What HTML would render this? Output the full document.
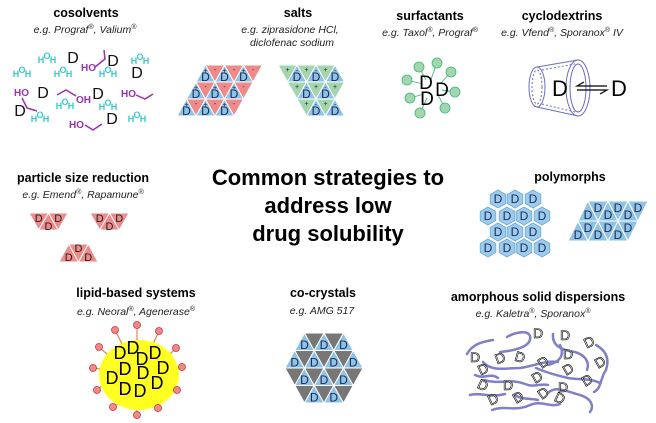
<!DOCTYPE html>
<html><head><meta charset="utf-8"><style>
html,body{margin:0;padding:0;background:#fff;}
svg{display:block;font-family:"Liberation Sans",Arial,sans-serif;}
.t{font-weight:bold;font-size:12.5px;text-anchor:middle;fill:#000}
.s{font-style:italic;font-size:10.5px;text-anchor:middle;fill:#222}
.b{fill:#8fc3e6;stroke:#fff;stroke-width:1}
.r{fill:#ef8a8a;stroke:#fff;stroke-width:1}
.g{fill:#a3d6ae;stroke:#fff;stroke-width:1}
.k{fill:#777;stroke:#fff;stroke-width:1}
.d{font-size:12px;text-anchor:middle;fill:#1a2a5a}
.w{fill:#3cc8c8;font-size:9px;font-weight:bold}
.p{fill:#9b30b0;font-size:10px;font-weight:bold}
.pl{stroke:#9b30b0;stroke-width:1.5;fill:none}
.am{stroke:#8080c8;stroke-width:2.5;fill:none;stroke-linecap:round}
</style></head><body>
<svg width="656" height="423" viewBox="0 0 656 423" xmlns="http://www.w3.org/2000/svg">
<defs>
<path id="hx" d="M0,-9 L7.8,-4.5 L7.8,4.5 L0,9 L-7.8,4.5 L-7.8,-4.5Z" fill="#9ccbec" stroke="#6aa8d8" stroke-width="0.8"/>
</defs>

<!-- titles -->
<text class="t" x="86" y="17">cosolvents</text>
<text class="s" x="85" y="33">e.g. Prograf<tspan font-size="7" dy="-4">®</tspan><tspan dy="4">, Valium</tspan><tspan font-size="7" dy="-4">®</tspan></text>
<text class="t" x="298" y="17">salts</text>
<text class="s" x="290" y="33">e.g. ziprasidone HCl,</text>
<text class="s" x="292" y="46">diclofenac sodium</text>
<text class="t" x="430" y="20">surfactants</text>
<text class="s" x="430" y="36">e.g. Taxol<tspan font-size="7" dy="-4">®</tspan><tspan dy="4">, Prograf</tspan><tspan font-size="7" dy="-4">®</tspan></text>
<text class="t" x="562" y="20">cyclodextrins</text>
<text class="s" x="562" y="36">e.g. Vfend<tspan font-size="7" dy="-4">®</tspan><tspan dy="4">, Sporanox</tspan><tspan font-size="7" dy="-4">®</tspan><tspan dy="4"> IV</tspan></text>
<text class="t" x="83" y="182">particle size reduction</text>
<text class="s" x="83" y="198">e.g. Emend<tspan font-size="7" dy="-4">®</tspan><tspan dy="4">, Rapamune</tspan><tspan font-size="7" dy="-4">®</tspan></text>
<text class="t" x="570" y="181">polymorphs</text>
<text class="t" x="136" y="297">lipid-based systems</text>
<text class="s" x="136" y="315">e.g. Neoral<tspan font-size="7" dy="-4">®</tspan><tspan dy="4">, Agenerase</tspan><tspan font-size="7" dy="-4">®</tspan></text>
<text class="t" x="323" y="297">co-crystals</text>
<text class="s" x="322" y="314">e.g. AMG 517</text>
<text class="t" x="538" y="301">amorphous solid dispersions</text>
<text class="s" x="533" y="317">e.g. Kaletra<tspan font-size="7" dy="-4">®</tspan><tspan dy="4">, Sporanox</tspan><tspan font-size="7" dy="-4">®</tspan></text>

<g font-weight="bold" font-size="22" text-anchor="middle">
<text x="328" y="185">Common strategies to</text>
<text x="328" y="213">address low</text>
<text x="328" y="241">drug solubility</text>
</g>

<!-- cosolvents -->
<g font-size="16" fill="#111" text-anchor="middle">
<text x="73" y="63">D</text><text x="113" y="66">D</text><text x="137" y="78">D</text><text x="43" y="98">D</text><text x="98" y="99">D</text><text x="20" y="116">D</text><text x="112" y="124">D</text>
</g>
<g class="w" text-anchor="middle">
<text x="41 47 53" y="63 59 63">HOH</text>
<text x="16 22 28" y="77 73 77">HOH</text>
<text x="57 63 69" y="77 73 77">HOH</text>
<text x="102 108 114" y="77 73 77">HOH</text>
<text x="134 140 146" y="64 60 64">HOH</text>
<text x="59 65 71" y="109 105 109">HOH</text>
<text x="102 108 114" y="110 106 110">HOH</text>
<text x="34 40 46" y="122 118 122">HOH</text>
<text x="131 137 143" y="122 118 122">HOH</text>
</g>
<text class="p" x="81" y="71">HO</text><path class="pl" d="M95,67 L105,59 L104,50"/>
<text class="p" x="14" y="96">HO</text><path class="pl" d="M22,98 L27,108 L37,111"/>
<text class="p" x="76" y="103">OH</text><path class="pl" d="M76,96 L66,90 L57,95"/>
<text class="p" x="121" y="97">HO</text><path class="pl" d="M136,95 L145,99 L153,94"/>
<text class="p" x="69" y="128">HO</text><path class="pl" d="M85,125 L93,130 L102,124"/>

<!-- salts left -->
<polygon class="b" points="196,82 205.5,65 215,82"/><polygon class="b" points="215,82 224.5,65 234,82"/><polygon class="b" points="234,82 243.5,65 253,82"/>
<polygon class="r" points="205.5,65 224.5,65 215,82"/><polygon class="r" points="224.5,65 243.5,65 234,82"/><polygon class="r" points="243.5,65 262.5,65 253,82"/>
<polygon class="b" points="186.5,99 196,82 205.5,99"/><polygon class="b" points="205.5,99 215,82 224.5,99"/><polygon class="b" points="224.5,99 234,82 243.5,99"/>
<polygon class="r" points="196,82 215,82 205.5,99"/><polygon class="r" points="215,82 234,82 224.5,99"/><polygon class="r" points="234,82 253,82 243.5,99"/>
<polygon class="b" points="177,116 186.5,99 196,116"/><polygon class="b" points="196,116 205.5,99 215,116"/><polygon class="b" points="215,116 224.5,99 234,116"/>
<polygon class="r" points="186.5,99 205.5,99 196,116"/><polygon class="r" points="205.5,99 224.5,99 215,116"/><polygon class="r" points="224.5,99 243.5,99 234,116"/>
<g class="d"><text x="205.5 224.5 243.5" y="81">DDD</text><text x="196 215 234" y="98">DDD</text><text x="186.5 205.5 224.5" y="115">DDD</text></g>
<g font-size="7" text-anchor="middle" fill="#222">
<text x="205.5 224.5 243.5" y="73">+++</text><text x="196 215 234" y="90">+++</text><text x="186.5 205.5 224.5" y="107">+++</text>
<text x="215 234 253" y="72">---</text><text x="205.5 224.5 243.5" y="89">---</text><text x="196 215 234" y="106">---</text>
</g>

<!-- salts right -->
<polygon class="g" points="278,65 297,65 287.5,82"/><polygon class="g" points="297,65 316,65 306.5,82"/><polygon class="g" points="316,65 335,65 325.5,82"/>
<polygon class="b" points="287.5,82 297,65 306.5,82"/><polygon class="b" points="306.5,82 316,65 325.5,82"/><polygon class="b" points="325.5,82 335,65 344.5,82"/>
<polygon class="g" points="287.5,82 306.5,82 297,99"/><polygon class="g" points="306.5,82 325.5,82 316,99"/><polygon class="g" points="325.5,82 344.5,82 335,99"/>
<polygon class="b" points="297,99 306.5,82 316,99"/><polygon class="b" points="316,99 325.5,82 335,99"/>
<polygon class="g" points="297,99 316,99 306.5,116"/><polygon class="g" points="316,99 335,99 325.5,116"/>
<polygon class="b" points="306.5,116 316,99 325.5,116"/><polygon class="b" points="325.5,116 335,99 344.5,116"/>
<g class="d"><text x="297 316 335" y="81">DDD</text><text x="306.5 325.5" y="98">DD</text><text x="316 335" y="115">DD</text></g>
<g font-size="7" text-anchor="middle" fill="#222">
<text x="287.5 306.5 325.5" y="72">+++</text><text x="297 316 335" y="89">+++</text><text x="306.5 325.5" y="106">++</text>
<text x="297 316 335" y="73">---</text><text x="306.5 325.5" y="90">--</text><text x="316 335" y="107">--</text>
</g>

<!-- surfactants -->
<g stroke="#3cb878" stroke-width="0.9">
<line x1="430" y1="82" x2="437" y2="63"/><line x1="426" y1="80" x2="419" y2="67"/><line x1="423" y1="84" x2="407" y2="80"/><line x1="424" y1="94" x2="410" y2="98"/>
<line x1="427" y1="98" x2="420" y2="113"/><line x1="438" y1="95" x2="445" y2="108"/><line x1="442" y1="90" x2="455" y2="92"/><line x1="440" y1="84" x2="451" y2="72"/>
</g>
<g fill="#a3d6ae" stroke="#3cb878" stroke-width="0.8">
<circle cx="437" cy="63" r="5"/><circle cx="419" cy="67" r="5"/><circle cx="407" cy="80" r="5"/><circle cx="410" cy="98" r="5"/>
<circle cx="420" cy="113" r="5"/><circle cx="445" cy="108" r="5"/><circle cx="455" cy="92" r="5"/><circle cx="451" cy="72" r="5"/>
</g>
<g font-size="19" text-anchor="middle" fill="#000"><text x="426" y="89">D</text><text x="442" y="96">D</text><text x="427" y="105">D</text></g>

<!-- cyclodextrin -->
<g stroke="#6c6cc8" fill="none" stroke-width="1">
<line x1="537" y1="67" x2="578" y2="60"/><line x1="537" y1="107" x2="578" y2="116"/>
<ellipse cx="537" cy="87" rx="8" ry="20"/>
<ellipse cx="537" cy="87" rx="5" ry="17" stroke-dasharray="2,2"/>
<line x1="542" y1="70" x2="575" y2="64" stroke-dasharray="2,2"/><line x1="542" y1="104" x2="575" y2="112" stroke-dasharray="2,2"/>
<ellipse cx="578" cy="88" rx="12" ry="28"/>
<ellipse cx="578" cy="88" rx="8" ry="24"/>
</g>
<text x="560" y="96" font-size="22" text-anchor="middle">D</text>
<g stroke="#000" stroke-width="1.2" fill="none">
<path d="M607,86 L577,86 L584,82"/><path d="M577,90 L607,90 L600,94"/>
</g>
<text x="619" y="96" font-size="22" text-anchor="middle">D</text>

<!-- particle size reduction -->
<polygon class="r" points="29,213 48.5,213 38.75,230"/><polygon class="r" points="38.75,230 48.5,213 58.25,230"/><polygon class="r" points="48.5,213 68,213 58.25,230"/>
<polygon class="r" points="90,213 109.5,213 99.75,230"/><polygon class="r" points="99.75,230 109.5,213 119.25,230"/><polygon class="r" points="109.5,213 129,213 119.25,230"/>
<polygon class="r" points="59,262 68.75,244 78.5,262"/><polygon class="r" points="68.75,244 88.25,244 78.5,262"/><polygon class="r" points="78.5,262 88.25,244 98,262"/>
<g font-size="11" text-anchor="middle" fill="#222">
<text x="38.75 58.25" y="222">DD</text><text x="48.5" y="230">D</text>
<text x="99.75 119.25" y="222">DD</text><text x="109.5" y="230">D</text>
<text x="78.5" y="252">D</text><text x="68.75 88.25" y="261">DD</text>
</g>

<!-- polymorphs hex -->
<use href="#hx" x="498" y="199"/><use href="#hx" x="515" y="199"/><use href="#hx" x="533" y="199"/>
<use href="#hx" x="488" y="216"/><use href="#hx" x="507" y="216"/><use href="#hx" x="524" y="216"/><use href="#hx" x="542" y="216"/>
<use href="#hx" x="498" y="232"/><use href="#hx" x="515" y="232"/><use href="#hx" x="533" y="232"/>
<use href="#hx" x="488" y="248"/><use href="#hx" x="507" y="248"/><use href="#hx" x="524" y="248"/><use href="#hx" x="542" y="248"/>
<g class="d">
<text x="498 515 533" y="203">DDD</text><text x="488 507 524 542" y="220">DDDD</text>
<text x="498 515 533" y="236">DDD</text><text x="488 507 524 542" y="252">DDDD</text>
</g>
<!-- polymorph triangles -->
<polygon class="b" points="578,221 588,201 598,221"/><polygon class="b" points="598,221 608,201 618,221"/><polygon class="b" points="618,221 628,201 638,221"/>
<polygon class="b" points="588,201 608,201 598,221"/><polygon class="b" points="608,201 628,201 618,221"/><polygon class="b" points="628,201 648,201 638,221"/>
<polygon class="b" points="568,241 578,221 588,241"/><polygon class="b" points="588,241 598,221 608,241"/><polygon class="b" points="608,241 618,221 628,241"/>
<polygon class="b" points="578,221 598,221 588,241"/><polygon class="b" points="598,221 618,221 608,241"/><polygon class="b" points="618,221 638,221 628,241"/>
<g class="d">
<text x="588 608 628" y="219">DDD</text><text x="598 618 638" y="212">DDD</text>
<text x="578 598 618" y="239">DDD</text><text x="588 608 628" y="232">DDD</text>
</g>

<!-- lipid -->
<g stroke="#e07030" stroke-width="1">
<line x1="137" y1="340" x2="137" y2="325"/><line x1="122" y1="344" x2="115" y2="330"/><line x1="153" y1="344" x2="159" y2="331"/>
<line x1="108" y1="355" x2="99" y2="347"/><line x1="168" y1="356" x2="176" y2="348"/><line x1="100" y1="369" x2="93" y2="368"/>
<line x1="178" y1="368" x2="182" y2="367"/><line x1="103" y1="385" x2="97" y2="390"/><line x1="172" y1="386" x2="177" y2="390"/>
<line x1="120" y1="403" x2="113" y2="407"/><line x1="155" y1="404" x2="158" y2="408"/><line x1="137" y1="410" x2="137" y2="415"/>
</g>
<ellipse cx="139" cy="375" rx="40" ry="35" fill="#ffff22"/>
<g fill="#f08a8a" stroke="#d03030" stroke-width="0.8">
<circle cx="137" cy="325" r="3.5"/><circle cx="115" cy="330" r="3.5"/><circle cx="159" cy="331" r="3.5"/><circle cx="99" cy="347" r="3.5"/>
<circle cx="176" cy="348" r="3.5"/><circle cx="93" cy="368" r="3.5"/><circle cx="182" cy="367" r="3.5"/><circle cx="97" cy="390" r="3.5"/>
<circle cx="177" cy="390" r="3.5"/><circle cx="113" cy="407" r="3.5"/><circle cx="158" cy="408" r="3.5"/><circle cx="137" cy="415" r="3.5"/>
</g>
<g font-size="18" text-anchor="middle" fill="#000">
<text x="120 133 142 155 125 143 163 112 125 140 157" y="359 354 365 359 375 379 374 384 395 397 389">DDDDDDDDDDD</text>
</g>

<!-- co-crystals -->
<polygon class="b" points="294.75,350.5 304.5,333 314.25,350.5"/><polygon class="k" points="304.5,333 324,333 314.25,350.5"/><polygon class="b" points="314.25,350.5 324,333 333.75,350.5"/><polygon class="k" points="324,333 343.5,333 333.75,350.5"/><polygon class="b" points="333.75,350.5 343.5,333 353.25,350.5"/>
<polygon class="b" points="285,368 294.75,350.5 304.5,368"/><polygon class="k" points="294.75,350.5 314.25,350.5 304.5,368"/><polygon class="b" points="304.5,368 314.25,350.5 324,368"/><polygon class="k" points="314.25,350.5 333.75,350.5 324,368"/><polygon class="b" points="324,368 333.75,350.5 343.5,368"/><polygon class="k" points="333.75,350.5 353.25,350.5 343.5,368"/><polygon class="b" points="343.5,368 353.25,350.5 363,368"/>
<polygon class="k" points="285,368 304.5,368 294.75,385.5"/><polygon class="b" points="294.75,385.5 304.5,368 314.25,385.5"/><polygon class="k" points="304.5,368 324,368 314.25,385.5"/><polygon class="b" points="314.25,385.5 324,368 333.75,385.5"/><polygon class="k" points="324,368 343.5,368 333.75,385.5"/><polygon class="b" points="333.75,385.5 343.5,368 353.25,385.5"/><polygon class="k" points="343.5,368 363,368 353.25,385.5"/>
<polygon class="k" points="294.75,385.5 314.25,385.5 304.5,403"/><polygon class="b" points="304.5,403 314.25,385.5 324,403"/><polygon class="k" points="314.25,385.5 333.75,385.5 324,403"/><polygon class="b" points="324,403 333.75,385.5 343.5,403"/><polygon class="k" points="333.75,385.5 353.25,385.5 343.5,403"/>
<g class="d"><text x="304.5 324 343.5" y="349">DDD</text><text x="294.75 314.25 333.75 353.25" y="366.5">DDDD</text><text x="304.5 324 343.5" y="384">DDD</text><text x="314.25 333.75" y="401.5">DD</text></g>

<!-- amorphous -->
<g class="am">
<path d="M467,354 C472,345 480,342 493,340"/>
<path d="M507,337 C515,332 528,330 530,336 C532,345 520,350 500,352"/>
<path d="M553,334 C552,345 560,350 575,352 C585,355 590,362 587,370"/>
<path d="M596,345 C605,350 610,358 606,370 C600,378 602,388 594,392"/>
<path d="M483,362 C492,372 505,368 520,368 C535,366 545,360 558,362"/>
<path d="M475,375 C485,380 490,372 498,378"/>
<path d="M536,368 C545,372 555,375 568,378 C580,380 590,378 600,383"/>
<path d="M484,380 C500,385 510,378 525,384 C535,388 540,383 548,385"/>
<path d="M470,395 C480,392 490,398 505,394"/>
<path d="M492,410 C505,405 515,412 530,405 C542,400 550,408 560,404"/>
<path d="M548,393 C556,385 568,392 580,395 C590,398 595,405 590,412"/>
<path d="M515,395 C522,400 530,398 538,400"/>
<path d="M560,345 C565,355 560,362 548,365"/>
</g>
<g font-size="14" text-anchor="middle" fill="#fff" stroke="#000" stroke-width="0.6">
<text x="538" y="338">D</text><text x="565" y="340">D</text>
<text x="589" y="347" transform="rotate(-25 589 342)">D</text>
<text x="475" y="362">D</text>
<text x="500" y="363" transform="rotate(-20 500 358)">D</text>
<text x="520" y="362" transform="rotate(15 520 357)">D</text>
<text x="543" y="367" transform="rotate(-35 543 362)">D</text>
<text x="568" y="359">D</text>
<text x="600" y="367" transform="rotate(-30 600 362)">D</text>
<text x="483" y="374" transform="rotate(-25 483 369)">D</text>
<text x="568" y="374" transform="rotate(-30 568 369)">D</text>
<text x="537" y="382" transform="rotate(-30 537 377)">D</text>
<text x="587" y="385" transform="rotate(-30 587 380)">D</text>
<text x="483" y="390" transform="rotate(25 483 385)">D</text>
<text x="508" y="390">D</text>
<text x="563" y="392">D</text>
<text x="543" y="398" transform="rotate(-35 543 393)">D</text>
<text x="493" y="404" transform="rotate(-25 493 399)">D</text>
<text x="518" y="402" transform="rotate(-30 518 397)">D</text>
<text x="560" y="403" transform="rotate(25 560 398)">D</text>
</g>
</svg>
</body></html>
